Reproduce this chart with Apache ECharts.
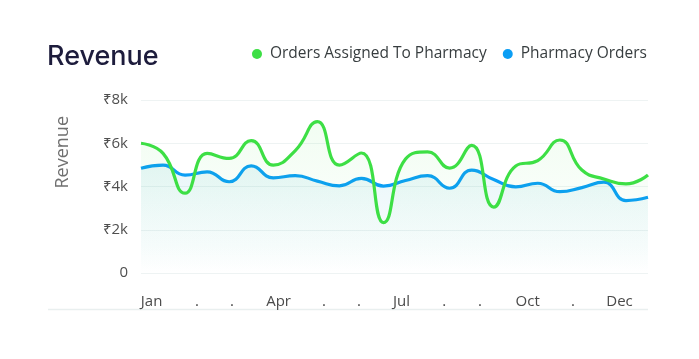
<!DOCTYPE html>
<html>
<head>
<meta charset="utf-8">
<script src="https://cdn.jsdelivr.net/npm/echarts@6/dist/echarts.min.js"></script>
<style>
html,body{margin:0;padding:0;background:#fff;}
#c{width:699px;height:359px;}
</style>
</head>
<body>
<div id="c"></div>
<script>
// ---- data ----
var points = ['p1','p2','p3','p4','p5','p6','p7','p8','p9','p10','p11','p12','p13','p14','p15','p16','p17','p18','p19','p20','p21','p22','p23','p24'];
var ordersAssigned = [6000,5530,3690,5530,5300,6120,4990,5660,7000,4990,5550,2330,5270,5600,4850,5900,3050,4950,5200,6150,4760,4350,4120,4530];
var pharmacyOrders = [4840,4990,4530,4680,4220,4950,4400,4500,4250,4030,4380,4020,4280,4500,3920,4760,4320,3980,4150,3760,3950,4200,3350,3500];
var monthLabels = ['Jan','.','.','Apr','.','.','Jul','.','.','Oct','.','Dec'];
var monthLabelAt = [0.48,2.54,4.13,6.24,8.30,9.89,11.82,13.75,15.38,17.54,19.60,21.71];
var yTicks = [0,2000,4000,6000,8000];
var yTickLabels = ['0','₹2k','₹4k','₹6k','₹8k'];

var GREEN = '#3ddf45';
var BLUE = '#0b9ef4';
var FONT = '"Open Sans","Noto Sans",sans-serif';

var chart = echarts.init(document.getElementById('c'), null, {renderer:'canvas'});
chart.setOption({
  animation:false,
  backgroundColor:'#fff',
  title:{
    text:'Revenue', left:42, top:38,
    textStyle:{fontFamily:'Inter, "Noto Sans", sans-serif', fontSize:27, fontWeight:500, color:'#1d1c3c'}
  },
  legend:{
    right:47, top:41, icon:'circle', itemWidth:10, itemHeight:10, itemGap:16,
    data:['Orders Assigned To Pharmacy','Pharmacy Orders'],
    textStyle:{fontFamily:FONT, fontSize:15.5, color:'#373d3f', padding:[0,0,0,3]}
  },
  grid:{left:141, right:51, top:100, bottom:86},
  xAxis:[{
    type:'category', data:points, boundaryGap:false,
    axisLine:{show:false}, axisTick:{show:false}, axisLabel:{show:false}, splitLine:{show:false}
  },{
    type:'value', min:0, max:points.length-1, position:'bottom',
    axisLine:{show:false}, axisTick:{show:false}, splitLine:{show:false},
    axisLabel:{
      customValues:monthLabelAt, margin:21,
      fontFamily:FONT, fontSize:15, color:'#4a4a4a',
      formatter:function(v){
        var best=0,d=1e9;
        for(var i=0;i<monthLabelAt.length;i++){var dd=Math.abs(monthLabelAt[i]-v); if(dd<d){d=dd;best=i;}}
        return monthLabels[best];
      }
    }
  }],
  yAxis:{
    type:'value', min:0, max:8000, interval:2000,
    axisLine:{show:false}, axisTick:{show:false},
    splitLine:{lineStyle:{color:'#eef3f3', width:1}},
    axisLabel:{
      margin:13, fontFamily:FONT, fontSize:15, color:'#4f4f4f',
      formatter:function(v){var i=yTicks.indexOf(v);return i>=0?yTickLabels[i]:'';}
    }
  },
  graphic:[{
    type:'text', left:54, top:116, rotation:Math.PI/2,
    style:{text:'Revenue', font:'18px "Open Sans","Noto Sans",sans-serif', fill:'#707070'}
  },{
    type:'line', shape:{x1:48,y1:309.5,x2:648,y2:309.5},
    style:{stroke:'#e9efef', lineWidth:1.5}
  }],
  series:[{
    name:'Pharmacy Orders', type:'line', data:pharmacyOrders, xAxisIndex:0,
    smooth:0.5, symbol:'none', z:2,
    lineStyle:{color:BLUE, width:3.2}, itemStyle:{color:BLUE},
    areaStyle:{color:new echarts.graphic.LinearGradient(0,0,0,1,[
      {offset:0,color:'rgba(40,170,200,0.14)'},
      {offset:0.75,color:'rgba(40,170,200,0.05)'},
      {offset:1,color:'rgba(40,170,200,0.0)'}])}
  },{
    name:'Orders Assigned To Pharmacy', type:'line', data:ordersAssigned, xAxisIndex:0,
    smooth:0.5, symbol:'none', z:3,
    lineStyle:{color:GREEN, width:3.2}, itemStyle:{color:GREEN},
    areaStyle:{color:new echarts.graphic.LinearGradient(0,0,0,1,[
      {offset:0,color:'rgba(62,224,70,0.10)'},
      {offset:0.6,color:'rgba(62,224,70,0.03)'},
      {offset:1,color:'rgba(62,224,70,0.0)'}])}
  }]
});
</script>
</body>
</html>
